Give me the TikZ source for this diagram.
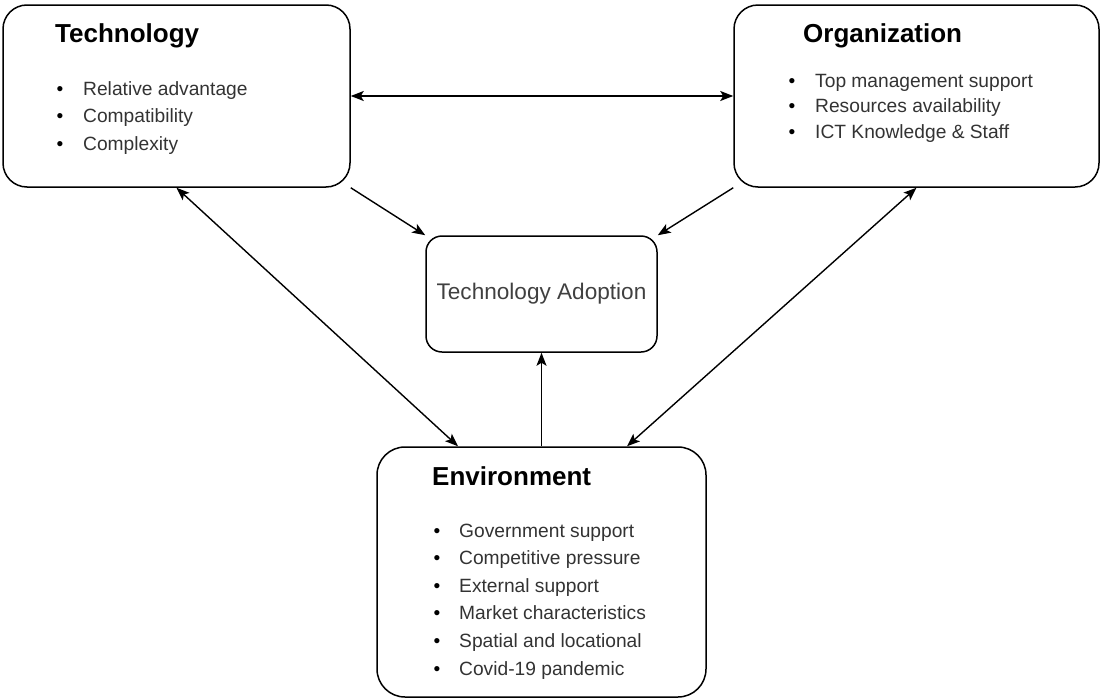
\documentclass[tikz,border=0pt]{standalone}
\usepackage{fontspec}
\setmainfont{Liberation Sans}
\usetikzlibrary{arrows.meta}

\newcommand{\bul}[1]{\makebox[#1][l]{\textcolor{black}{\textbullet}}}

\begin{document}
\begin{tikzpicture}[x=1pt, y=-1pt,
	box/.style={draw=black, line width=1.5pt, rounded corners=#1, inner sep=0pt},
	box/.default=24pt,
	title/.style={anchor=base west, inner sep=0pt, font=\fontsize{26}{30}\selectfont\bfseries},
	item/.style={anchor=base west, inner sep=0pt, text=itemgray, font=\fontsize{19.2}{23}\selectfont},
	>={Stealth[length=13pt, width=10pt, inset=3pt]},
]
\definecolor{itemgray}{HTML}{333333}
\definecolor{adoptgray}{HTML}{404040}
\useasboundingbox (0,0) rectangle (1101,699);

% the four boxes
\node[box, minimum width=347pt, minimum height=182pt] (tech) at (176.5,96) {};
\node[box, minimum width=365pt, minimum height=182pt] (org) at (916.5,96) {};
\node[box=16pt, minimum width=231pt, minimum height=116pt] (adopt) at (541.5,294) {};
\node[box=28pt, minimum width=329pt, minimum height=250pt] (env) at (541.5,572) {};

% headings
\node[title] (tech-title) at (55,42) {Technology};
\node[title] (org-title) at (803,42) {Organization};
\node[title] (env-title) at (432,485) {Environment};
\node[anchor=base, inner sep=0pt, text=adoptgray, font=\fontsize{22.6}{26}\selectfont]
	(adopt-title) at (541.5,299) {Technology Adoption};

% bullet lists
\foreach \txt [count=\i] in {Relative advantage, Compatibility, Complexity}
	\node[item] (tech-\i) at (56.5,{95+27.5*(\i-1)}) {\bul{26.5pt}\txt};
\foreach \txt [count=\i] in {Top management support, Resources availability, {ICT Knowledge \& Staff}}
	\node[item] (org-\i) at (788.5,{87+25.8*(\i-1)}) {\bul{26.5pt}\txt};
\foreach \txt [count=\i] in {Government support, Competitive pressure, External support,
		Market characteristics, Spatial and locational, Covid-19 pandemic}
	\node[item] (env-\i) at (433.5,{537+27.6*(\i-1)}) {\bul{25.5pt}\txt};

% connectors
\begin{scope}[line width=1.4pt]
\draw[<->] (tech.east) -- (org.west);
\draw[->] (tech.south east) -- (adopt.north west);
\draw[->] (org.south west) -- (adopt.north east);
\draw[->] (env.north) -- (adopt.south);
\draw[<->] (tech.south) -- ([xshift=-83.5pt]env.north);
\draw[<->] (org.south) -- ([xshift=85.5pt]env.north);
\end{scope}
\end{tikzpicture}
\end{document}
